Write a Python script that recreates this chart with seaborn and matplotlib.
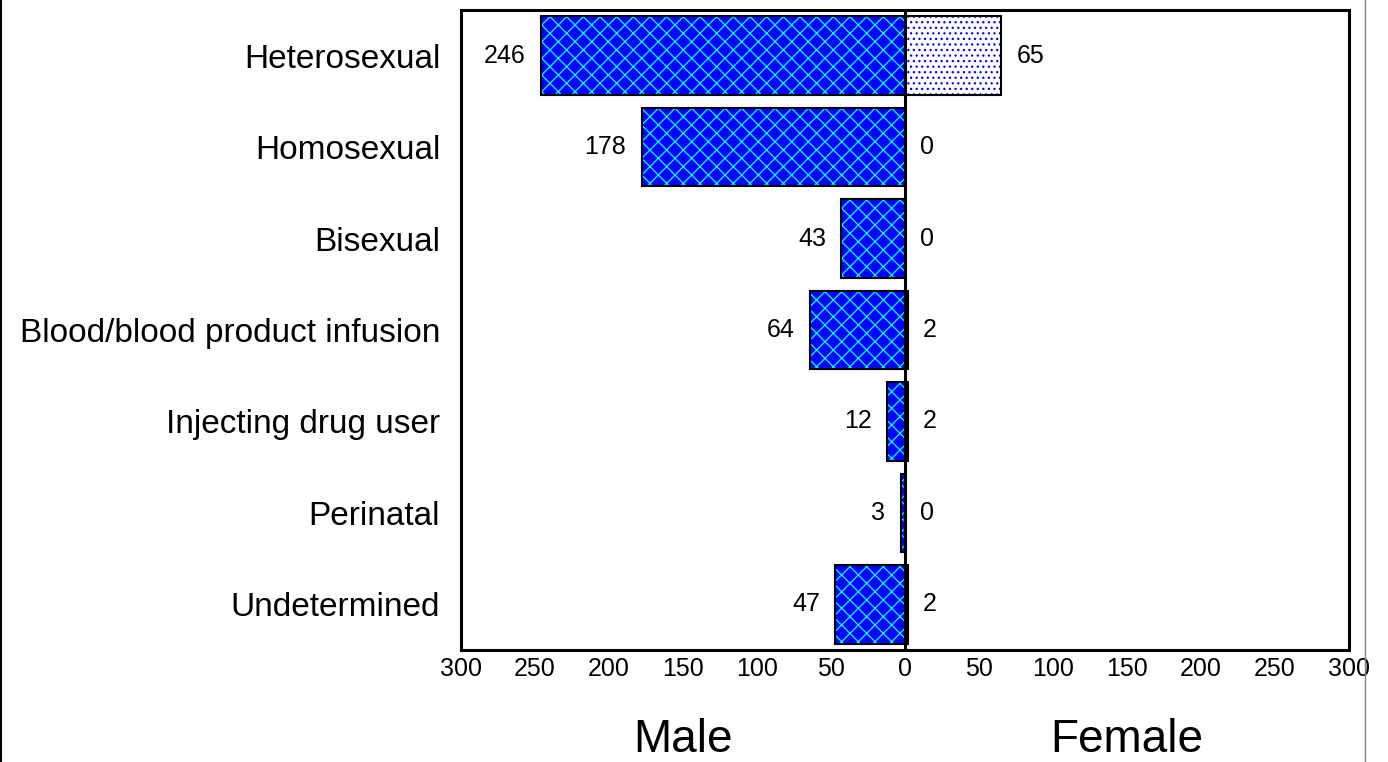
import matplotlib
matplotlib.use("Agg")
import matplotlib.pyplot as plt
import pandas as pd
import seaborn as sns
from matplotlib.lines import Line2D
from matplotlib.patches import Rectangle

categories = ["Heterosexual", "Homosexual", "Bisexual", "Blood/blood product infusion",
              "Injecting drug user", "Perinatal", "Undetermined"]
male = [246, 178, 43, 64, 12, 3, 47]
female = [65, 0, 0, 2, 2, 0, 2]
x_ticks = [-300, -250, -200, -150, -100, -50, 0, 50, 100, 150, 200, 250, 300]
x_tick_labels = ["300", "250", "200", "150", "100", "50", "0", "50", "100", "150", "200", "250", "300"]

sns.set_style("white")
plt.rcParams["font.family"] = ["Liberation Sans", "DejaVu Sans"]
plt.rcParams["hatch.linewidth"] = 0.9
for k in ["text.color", "xtick.color", "ytick.color", "axes.labelcolor"]:
    plt.rcParams[k] = "black"

df = pd.DataFrame({"category": categories, "male": [-v for v in male], "female": female})

fig = plt.figure(figsize=(13.88, 7.62), dpi=100)
ax = fig.add_axes([461 / 1388, 112 / 762, 888 / 1388, 640 / 762])

sns.barplot(data=df, x="male", y="category", color="#0000ff", saturation=1,
            width=0.86, errorbar=None, orient="h", ax=ax)
sns.barplot(data=df, x="female", y="category", color="white", saturation=1,
            width=0.86, errorbar=None, orient="h", ax=ax)

male_bars, female_bars = ax.containers[0], ax.containers[1]
ax.bar_label(male_bars, labels=[str(v) for v in male], padding=11, fontsize=18)
ax.bar_label(female_bars, labels=[str(v) for v in female], padding=11, fontsize=18)

# hatch in its own colour, black outline drawn on top
for bars, hatch, hcol in [(male_bars, "xx", "#00ffff"), (female_bars, "...", "#0000ff")]:
    for p in bars:
        p.set_hatch(hatch)
        p.set_edgecolor(hcol)
        p.set_linewidth(0)
        ax.add_patch(Rectangle(p.get_xy(), p.get_width(), p.get_height(), fill=False,
                               edgecolor="black", lw=1.5, zorder=p.get_zorder() + 0.1))

ax.axvline(0, color="black", lw=2.2, zorder=5)

ax.set_xlim(-300, 300)
ax.set_xticks(x_ticks)
ax.set_xticklabels(x_tick_labels, fontsize=18)
ax.tick_params(axis="y", length=0, pad=15, labelsize=24)
ax.tick_params(axis="x", length=0, pad=5)
ax.set_xlabel("")
ax.set_ylabel("")
for s in ax.spines.values():
    s.set_visible(True)
    s.set_color("black")
    s.set_linewidth(2.2)

fig.text(683 / 1388, 0.0, "Male", ha="center", va="bottom", fontsize=33)
fig.text(1127 / 1388, 0.0, "Female", ha="center", va="bottom", fontsize=33)

fig.add_artist(Line2D([1 / 1388, 1 / 1388], [0, 1], color="black", lw=1.5, transform=fig.transFigure))
fig.add_artist(Line2D([1364.5 / 1388, 1364.5 / 1388], [0, 1], color="#808080", lw=1, transform=fig.transFigure))

fig.savefig("out.png", dpi=100)
